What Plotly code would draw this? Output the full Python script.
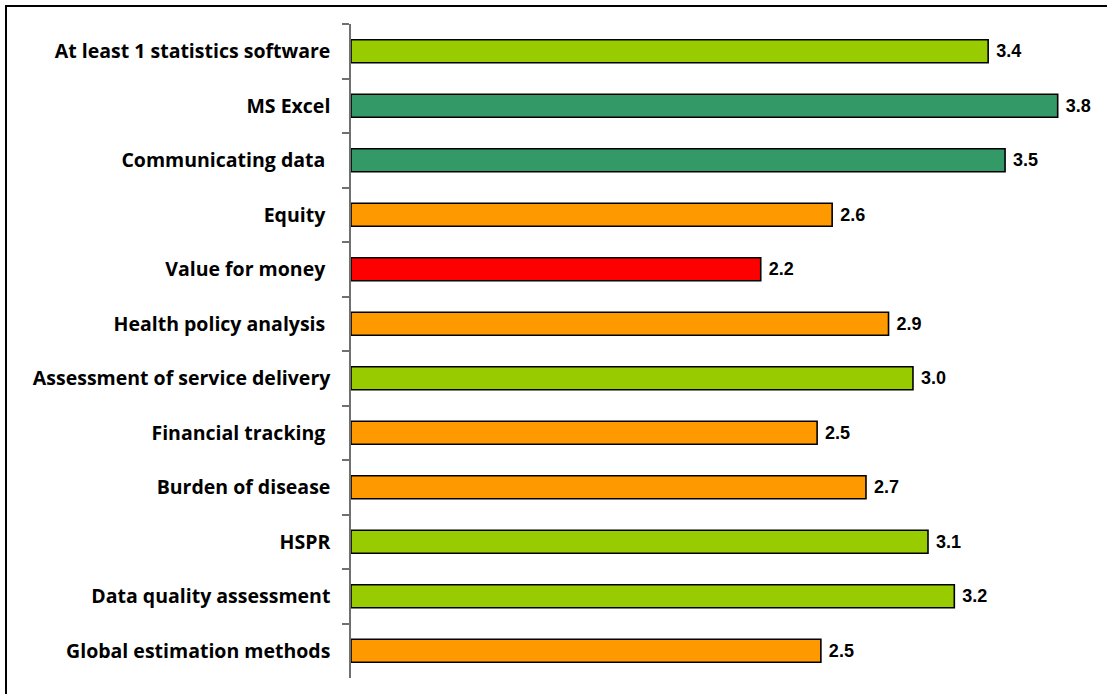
import plotly.graph_objects as go

categories = [
    "At least 1 statistics software",
    "MS Excel",
    "Communicating data\u00a0",
    "Equity\u00a0",
    "Value for money\u00a0",
    "Health policy analysis\u00a0",
    "Assessment of service delivery",
    "Financial tracking\u00a0",
    "Burden of disease",
    "HSPR",
    "Data quality assessment",
    "Global estimation methods",
]
values = [3.39, 3.76, 3.48, 2.56, 2.18, 2.86, 2.99, 2.48, 2.74, 3.07, 3.21, 2.50]
bar_colors = [
    "#99CC00", "#339966", "#339966", "#FF9900", "#FF0000", "#FF9900",
    "#99CC00", "#FF9900", "#FF9900", "#99CC00", "#99CC00", "#FF9900",
]

W, H = 1107, 694
L, T, B = 351, 24, 16
x_max = 3.9
plot_w = 733
R = W - L - plot_w
plot_h = H - T - B

fig = go.Figure(
    go.Bar(
        x=values,
        y=categories,
        orientation="h",
        marker=dict(color=bar_colors, line=dict(color="#000000", width=1.6)),
        texttemplate="\u00a0%{x:.1f}",
        textposition="outside",
        textfont=dict(family="Liberation Sans, Arial, sans-serif", size=18,
                      color="#000000", weight="bold"),
        cliponaxis=False,
        hoverinfo="x+y",
    )
)

fig.update_layout(
    width=W,
    height=H,
    margin=dict(l=L, r=R, t=T, b=B, pad=0, autoexpand=False),
    paper_bgcolor="#FFFFFF",
    plot_bgcolor="#FFFFFF",
    bargap=0.58,
    showlegend=False,
    xaxis=dict(
        range=[0, x_max],
        visible=False,
        showgrid=False,
        zeroline=False,
    ),
    yaxis=dict(
        categoryorder="array",
        categoryarray=categories,
        autorange="reversed",
        automargin=False,
        showline=True,
        linecolor="#707070",
        linewidth=1.5,
        ticks="outside",
        tickson="boundaries",
        ticklen=7,
        tickcolor="#707070",
        tickwidth=1.5,
        showgrid=False,
        tickfont=dict(family="Open Sans, sans-serif", size=19.5, color="#000000", weight="bold"),
        ticklabelstandoff=15,
    ),
    shapes=[
        dict(
            type="rect",
            xref="paper",
            yref="paper",
            x0=(6 - L) / plot_w,
            x1=(W + 20 - L) / plot_w,
            y0=-(B + 20) / plot_h,
            y1=1 + (T - 6) / plot_h,
            line=dict(color="#000000", width=2),
            fillcolor="rgba(0,0,0,0)",
            layer="above",
        )
    ],
)

fig.write_html(
    "out.html",
    config={"displayModeBar": False},
    post_script="document.body.style.margin='0';document.body.style.padding='0';",
)
